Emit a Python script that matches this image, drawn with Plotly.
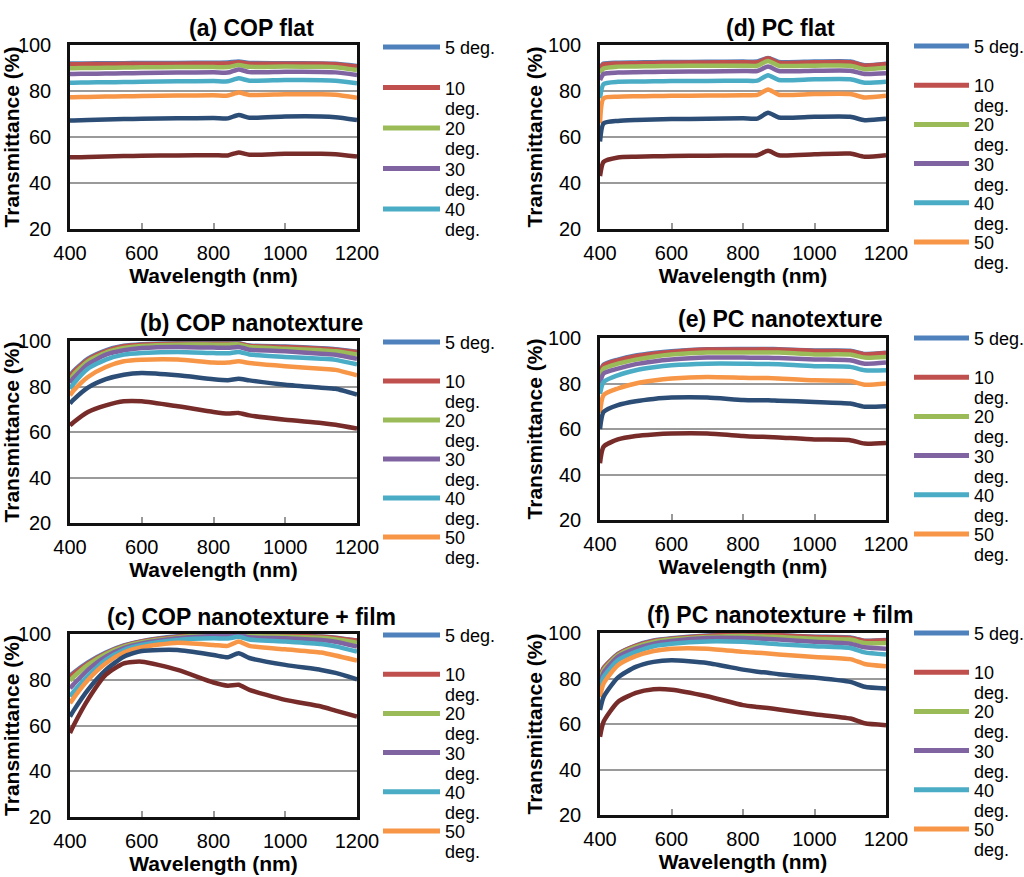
import plotly.graph_objects as go

# ---------------- data ----------------
wavelength = [400, 410, 450, 500, 550, 600, 700, 800, 840, 870, 900, 1000, 1100, 1140, 1200]
angles = ["5", "10", "20", "30", "40", "50", "60", "70"]
colors = ["#4F81BD", "#C0504D", "#9BBB59", "#8064A2", "#4BACC6", "#F79646", "#2C4D75", "#772C2A"]

# (a) COP flat  -- rows follow `angles`
cop_flat = [
    [92.0, 92.0, 92.0, 92.1, 92.1, 92.2, 92.2, 92.3, 92.4, 92.8, 92.2, 92.1, 92.0, 91.8, 90.9],
    [91.6, 91.6, 91.7, 91.7, 91.8, 91.8, 91.9, 92.0, 92.0, 92.5, 91.9, 91.9, 91.8, 91.6, 90.6],
    [89.9, 89.9, 90.0, 90.1, 90.2, 90.3, 90.4, 90.4, 90.4, 91.3, 90.5, 90.6, 90.5, 90.3, 89.1],
    [87.4, 87.4, 87.5, 87.6, 87.7, 87.8, 88.0, 88.1, 88.0, 89.4, 88.2, 88.4, 88.3, 88.1, 87.0],
    [83.6, 83.6, 83.7, 83.8, 83.9, 84.0, 84.2, 84.3, 84.2, 85.5, 84.5, 84.8, 84.7, 84.5, 83.4],
    [77.3, 77.3, 77.4, 77.6, 77.7, 77.8, 78.0, 78.2, 78.0, 79.3, 78.3, 78.6, 78.6, 78.4, 77.1],
    [67.2, 67.2, 67.4, 67.6, 67.8, 67.9, 68.1, 68.3, 68.1, 69.6, 68.4, 68.9, 68.9, 68.6, 67.4],
    [51.2, 51.2, 51.3, 51.5, 51.7, 51.8, 52.0, 52.1, 52.0, 53.3, 52.3, 52.7, 52.7, 52.5, 51.5],
]

# (b) COP nanotexture
cop_nano = [
    [84.8, 86.8, 92.2, 95.9, 97.9, 98.6, 99.0, 99.0, 99.0, 99.0, 98.0, 97.6, 96.8, 96.4, 95.3],
    [84.2, 86.3, 91.8, 95.6, 97.7, 98.4, 98.8, 98.8, 98.8, 98.8, 97.8, 97.4, 96.6, 96.2, 95.2],
    [83.0, 85.2, 91.1, 94.9, 96.9, 97.8, 98.4, 98.4, 98.4, 98.5, 97.4, 96.6, 95.9, 95.5, 94.1],
    [81.5, 83.7, 89.7, 94.0, 95.9, 96.9, 97.4, 97.1, 97.0, 97.4, 96.2, 95.5, 94.4, 94.0, 92.2],
    [79.0, 81.2, 87.8, 91.8, 94.0, 94.7, 95.2, 94.7, 94.6, 95.2, 94.1, 93.0, 92.2, 91.7, 89.7],
    [76.1, 78.2, 84.2, 88.6, 91.1, 91.8, 91.9, 90.5, 90.5, 91.1, 90.3, 88.9, 87.8, 87.3, 84.9],
    [72.5, 74.2, 79.5, 83.2, 85.2, 85.9, 84.9, 83.2, 82.8, 83.4, 82.7, 80.8, 79.5, 79.0, 76.4],
    [62.9, 64.3, 68.8, 71.7, 73.5, 73.5, 71.3, 68.8, 68.1, 68.4, 67.3, 65.4, 64.0, 63.2, 61.5],
]

# (c) COP nanotexture + film
cop_film = [
    [81.7, 83.1, 87.6, 91.9, 95.0, 96.9, 99.0, 100.0, 99.9, 100.0, 99.7, 99.4, 98.9, 98.4, 97.2],
    [81.1, 82.6, 87.2, 91.6, 94.8, 96.7, 98.8, 99.9, 99.8, 100.0, 99.6, 99.3, 98.8, 98.3, 97.1],
    [79.6, 81.2, 86.5, 91.3, 94.5, 96.4, 98.5, 99.6, 99.6, 100.0, 99.2, 98.8, 98.4, 97.7, 96.2],
    [76.3, 78.0, 84.3, 90.1, 93.8, 95.9, 98.1, 99.1, 99.1, 99.6, 98.6, 98.1, 97.4, 96.6, 94.5],
    [72.7, 74.8, 81.7, 88.7, 93.0, 95.2, 97.4, 98.1, 98.0, 98.8, 97.6, 96.7, 95.6, 94.6, 92.3],
    [69.7, 72.0, 79.9, 87.2, 91.9, 94.2, 96.2, 95.2, 94.8, 96.7, 94.8, 93.3, 91.9, 90.6, 88.4],
    [63.9, 66.5, 75.6, 84.3, 90.1, 92.6, 93.0, 90.8, 89.8, 91.6, 89.5, 86.5, 84.3, 83.0, 80.2],
    [56.7, 60.0, 71.3, 82.2, 87.2, 87.9, 84.3, 78.8, 77.4, 77.8, 75.6, 71.2, 68.3, 66.5, 63.9],
]

# (d) PC flat
pc_flat = [
    [90.2, 91.9, 92.3, 92.4, 92.5, 92.6, 92.7, 92.8, 92.8, 94.4, 92.6, 92.8, 92.8, 91.2, 91.9],
    [89.8, 91.6, 92.0, 92.1, 92.2, 92.3, 92.4, 92.5, 92.5, 94.2, 92.3, 92.5, 92.5, 91.0, 91.7],
    [87.7, 89.8, 90.6, 90.7, 90.8, 90.9, 91.0, 91.0, 91.0, 93.0, 91.0, 91.0, 91.0, 89.5, 90.1],
    [84.8, 87.4, 88.0, 88.2, 88.3, 88.4, 88.5, 88.7, 88.7, 90.6, 88.7, 88.8, 88.8, 87.4, 87.7],
    [76.8, 83.0, 84.0, 84.1, 84.2, 84.3, 84.4, 84.5, 84.5, 86.9, 84.8, 85.1, 85.1, 83.6, 84.0],
    [66.0, 76.8, 77.5, 77.7, 77.8, 77.9, 78.0, 78.2, 78.3, 80.7, 78.4, 78.7, 78.7, 77.2, 77.9],
    [58.0, 65.9, 67.0, 67.4, 67.6, 67.8, 67.9, 68.1, 68.0, 70.5, 68.5, 68.8, 68.8, 67.3, 67.9],
    [43.0, 49.2, 51.1, 51.4, 51.6, 51.7, 51.9, 52.0, 52.1, 54.0, 52.1, 52.5, 52.8, 51.4, 52.1],
]

# (e) PC nanotexture
pc_nano = [
    [85.0, 88.3, 90.5, 92.3, 93.4, 94.2, 95.1, 95.2, 95.2, 95.2, 95.1, 94.5, 94.4, 93.0, 93.5],
    [84.6, 88.0, 90.2, 92.0, 93.1, 93.9, 94.9, 95.0, 95.0, 95.0, 94.9, 94.3, 94.2, 92.8, 93.4],
    [83.0, 86.5, 88.7, 90.5, 91.8, 92.7, 93.6, 93.6, 93.6, 93.6, 93.6, 92.8, 92.7, 91.4, 91.7],
    [80.0, 84.4, 86.5, 88.5, 89.7, 90.5, 91.4, 91.4, 91.3, 91.3, 91.2, 90.6, 90.2, 88.7, 89.2],
    [75.5, 80.7, 83.6, 85.8, 87.1, 88.0, 88.7, 88.7, 88.6, 88.6, 88.5, 87.6, 87.3, 85.8, 85.8],
    [67.0, 74.9, 77.8, 80.0, 81.3, 82.2, 82.9, 82.5, 82.4, 82.4, 82.2, 81.4, 81.1, 79.5, 80.0],
    [60.0, 67.5, 70.5, 72.2, 73.2, 73.8, 73.8, 72.7, 72.6, 72.6, 72.4, 71.9, 71.2, 69.8, 70.0],
    [45.0, 52.2, 55.4, 56.9, 57.6, 58.0, 58.0, 56.9, 56.6, 56.5, 56.3, 55.4, 55.1, 53.6, 53.9],
]

# (f) PC nanotexture + film
pc_film = [
    [79.8, 84.6, 90.8, 94.5, 96.7, 97.7, 98.9, 99.4, 99.3, 99.2, 99.1, 98.4, 98.0, 96.6, 96.9],
    [79.5, 84.4, 90.6, 94.3, 96.5, 97.5, 98.7, 99.3, 99.2, 99.1, 99.0, 98.2, 97.8, 96.5, 96.8],
    [79.0, 83.6, 90.2, 93.9, 96.1, 97.1, 98.2, 98.7, 98.5, 98.4, 98.2, 97.5, 97.1, 95.6, 95.6],
    [77.8, 82.5, 89.5, 93.1, 95.3, 96.5, 97.8, 97.8, 97.6, 97.4, 97.1, 96.1, 95.3, 93.7, 93.1],
    [75.6, 80.7, 88.0, 91.7, 94.2, 95.3, 96.3, 96.1, 95.7, 95.4, 95.0, 94.2, 93.4, 91.5, 90.6],
    [71.9, 77.8, 85.8, 89.8, 92.1, 93.1, 93.1, 91.7, 91.3, 91.0, 90.6, 89.5, 88.5, 86.4, 85.4],
    [66.1, 71.9, 80.4, 85.1, 87.3, 88.0, 86.8, 83.9, 83.0, 82.5, 81.9, 80.4, 78.5, 76.4, 75.6],
    [54.4, 61.0, 69.7, 73.7, 75.3, 75.1, 72.2, 68.3, 67.5, 67.0, 66.4, 64.3, 62.4, 60.3, 59.5],
]

x_ticks = [400, 600, 800, 1000, 1200]
y_ticks = [20, 40, 60, 80, 100]

# ---------------- layout (pixels in the 1024x877 page) ----------------
W, H = 1024, 877
FONT = "Liberation Sans, Arial, sans-serif"
LEG_BASE = 15.5   # sets line pitch of wrapped legend labels
LEG_GLYPH = 18    # glyph size of legend labels

panels = [
    dict(title="(a) COP flat", data=cop_flat, col=0, top=45, bottom=229, ty=28, ly=47, ldy=40.5, nleg=5),
    dict(title="(b) COP nanotexture", data=cop_nano, col=0, top=341, bottom=523, ty=323, ly=342, ldy=39, nleg=6),
    dict(title="(c) COP nanotexture + film", data=cop_film, col=0, top=634, bottom=817, ty=617, ly=635, ldy=39.2, nleg=6),
    dict(title="(d) PC flat", data=pc_flat, col=1, top=45, bottom=229, ty=28, ly=46, ldy=39.2, nleg=6),
    dict(title="(e) PC nanotexture", data=pc_nano, col=1, top=338, bottom=520, ty=319, ly=338, ldy=39.2, nleg=6),
    dict(title="(f) PC nanotexture + film", data=pc_film, col=1, top=633, bottom=815, ty=615, ly=633, ldy=39.2, nleg=6),
]
cols = [
    dict(x0=70, x1=357, tx=251, sw0=383, sw1=440, lt=443),
    dict(x0=600, x1=886, tx=780, sw0=914, sw1=969, lt=972),
]

def px(v):
    return v / W

def py(v):
    return 1 - v / H

def big(s):
    return f'<span style="font-size:{LEG_GLYPH}px">{s}</span>'

fig = go.Figure()
annotations = []
shapes = []
layout_axes = {}

for i, p in enumerate(panels):
    n = i + 1
    sfx = "" if n == 1 else str(n)
    c = cols[p["col"]]
    for j, ang in enumerate(angles):
        fig.add_trace(go.Scatter(
            x=wavelength, y=p["data"][j], mode="lines",
            name=f"{ang} deg.",
            line=dict(color=colors[j], width=4.5, shape="spline", smoothing=0.6),
            xaxis="x" + sfx, yaxis="y" + sfx, showlegend=False,
        ))
    layout_axes["xaxis" + sfx] = dict(
        domain=[px(c["x0"]), px(c["x1"])], anchor="y" + sfx, automargin=False,
        range=[400, 1200], tickvals=x_ticks, ticks="inside", ticklen=6,
        tickwidth=1.5, tickcolor="#999999", showgrid=False, zeroline=False,
        showline=True, mirror=True, linecolor="#111111", linewidth=2.5,
        tickfont=dict(family=FONT, size=20, color="#000000"),
        ticklabelstandoff=4,
        title=dict(text="Wavelength (nm)", standoff=1,
                   font=dict(family=FONT, size=21, color="#000000", weight="bold")),
    )
    layout_axes["yaxis" + sfx] = dict(
        domain=[py(p["bottom"]), py(p["top"])], anchor="x" + sfx, automargin=False,
        range=[20, 100], tickvals=y_ticks, ticks="", showgrid=True,
        gridcolor="#9a9a9a", gridwidth=1.5, zeroline=False,
        showline=True, mirror=True, linecolor="#111111", linewidth=2.5,
        tickfont=dict(family=FONT, size=20, color="#000000"),
        ticklabelstandoff=12,
        title=dict(text="Transmittance (%)", standoff=0,
                   font=dict(family=FONT, size=21, color="#000000", weight="bold")),
    )
    annotations.append(dict(
        text="<b>" + p["title"] + "</b>", xref="paper", yref="paper",
        x=px(c["tx"]), y=py(p["ty"]), xanchor="center", yanchor="middle",
        showarrow=False, font=dict(family=FONT, size=23, color="#000000"),
    ))
    for j in range(p["nleg"]):
        yc = p["ly"] + j * p["ldy"]
        shapes.append(dict(
            type="line", xref="paper", yref="paper",
            x0=px(c["sw0"]), x1=px(c["sw1"]), y0=py(yc), y1=py(yc),
            line=dict(color=colors[j], width=5),
        ))
        if len(angles[j]) == 1:
            label = big(f"{angles[j]} deg.")
        else:
            label = big(angles[j]) + "<br>" + big("deg.")
        annotations.append(dict(
            text=label, xref="paper", yref="paper",
            x=px(c["lt"]), y=py(yc - 11), xanchor="left", yanchor="top",
            align="left", showarrow=False,
            font=dict(family=FONT, size=LEG_BASE, color="#000000"),
        ))

fig.update_layout(
    width=W, height=H, margin=dict(l=0, r=0, t=0, b=0, autoexpand=False),
    paper_bgcolor="white", plot_bgcolor="white",
    showlegend=False, annotations=annotations, shapes=shapes,
    font=dict(family=FONT, color="#000000"),
    **layout_axes,
)

# remove the browser's default page margin so the 1024x877 figure fills the window
fig.write_html(
    "out.html",
    config={"displayModeBar": False},
    post_script="document.body.style.margin='0';document.body.style.overflow='hidden';",
)
